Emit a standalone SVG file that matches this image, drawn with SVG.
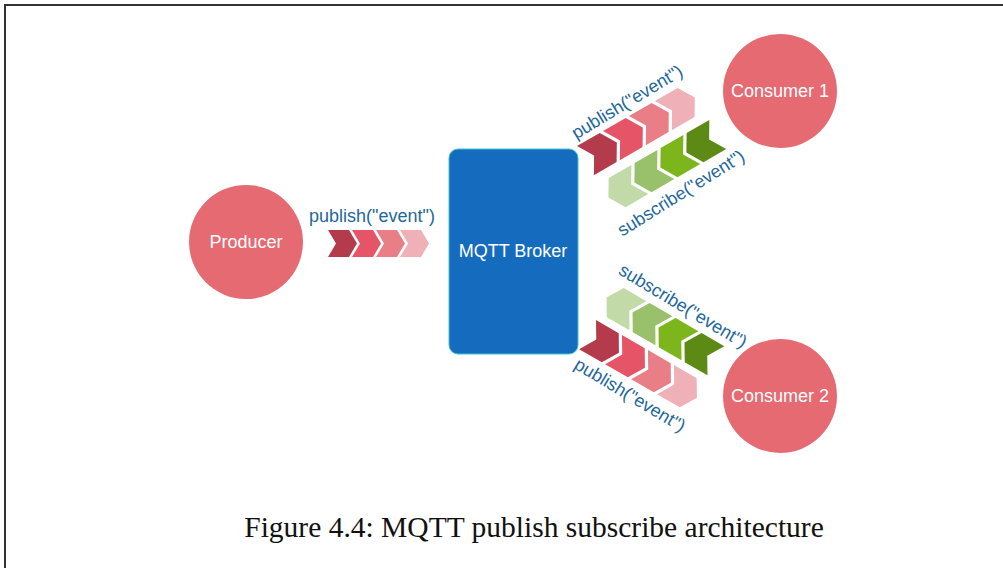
<svg xmlns="http://www.w3.org/2000/svg" xmlns:xlink="http://www.w3.org/1999/xlink" width="1003" height="568" viewBox="0 0 1003 568">
<style>
.node{fill:#E66A72}
.ntext{font-family:"Liberation Sans",Arial,sans-serif;font-size:18px;fill:#fff;text-anchor:middle;dominant-baseline:central}
.lbl{font-family:"Liberation Sans",Arial,sans-serif;font-size:18px;fill:#23679B;text-anchor:middle;dominant-baseline:central}
.c1{fill:#B33B4C}.c2{fill:#E65468}.c3{fill:#E97E87}.c4{fill:#EFB0B7}
.g1{fill:#C2DAA8}.g2{fill:#99C06A}.g3{fill:#7DB51C}.g4{fill:#5C8A14}
</style>
<defs>
<polygon id="chevR" points="0,0 21,0 29,13.5 21,27 0,27 8,13.5"/>
<polygon id="chevL" points="0,13.5 8,0 29,0 21,13.5 29,27 8,27"/>
<g id="pubStrip">
<use xlink:href="#chevR" x="0" class="c1"/>
<use xlink:href="#chevR" x="24" class="c2"/>
<use xlink:href="#chevR" x="48" class="c3"/>
<use xlink:href="#chevR" x="72" class="c4"/>
</g>
<g id="subStrip">
<use xlink:href="#chevL" x="0" class="g1"/>
<use xlink:href="#chevL" x="24" class="g2"/>
<use xlink:href="#chevL" x="48" class="g3"/>
<use xlink:href="#chevL" x="72" class="g4"/>
</g>
</defs>
<rect width="1003" height="568" fill="#fff"/>
<path d="M5,568 V5 H1003" fill="none" stroke="#333" stroke-width="2"/>

<g id="connectors">
<use xlink:href="#pubStrip" transform="translate(328,230)"/>
<text class="lbl" x="372" y="216">publish("event")</text>
<use xlink:href="#pubStrip" transform="translate(577,146) rotate(-30) scale(1.25)"/>
<text class="lbl" transform="translate(627,102) rotate(-31)">publish("event")</text>
<use xlink:href="#subStrip" transform="translate(600,183) rotate(-30) scale(1.25)"/>
<text class="lbl" transform="translate(681,193) rotate(-32)">subscribe("event")</text>
<use xlink:href="#subStrip" transform="translate(615,283) rotate(30) scale(1.25)"/>
<text class="lbl" transform="translate(683,306) rotate(31)">subscribe("event")</text>
<use xlink:href="#pubStrip" transform="translate(596,320) rotate(30) scale(1.25)"/>
<text class="lbl" transform="translate(630,395) rotate(31)">publish("event")</text>
</g>

<g id="producer">
<circle class="node" cx="246" cy="242" r="57"/>
<text class="ntext" x="246" y="242">Producer</text>
</g>
<g id="broker">
<rect x="449" y="149" width="129" height="205" rx="9" fill="#156CBE" stroke="#3EC4C9" stroke-width="1"/>
<text class="ntext" x="513" y="251">MQTT Broker</text>
</g>
<g id="consumer1">
<circle class="node" cx="780" cy="91" r="57"/>
<text class="ntext" x="780" y="91">Consumer 1</text>
</g>
<g id="consumer2">
<circle class="node" cx="780" cy="396" r="57"/>
<text class="ntext" x="780" y="396">Consumer 2</text>
</g>
<text x="534" y="537" font-family="'Liberation Serif','Times New Roman',serif" font-size="29.5" fill="#111" text-anchor="middle">Figure 4.4: MQTT publish subscribe architecture</text>
</svg>
